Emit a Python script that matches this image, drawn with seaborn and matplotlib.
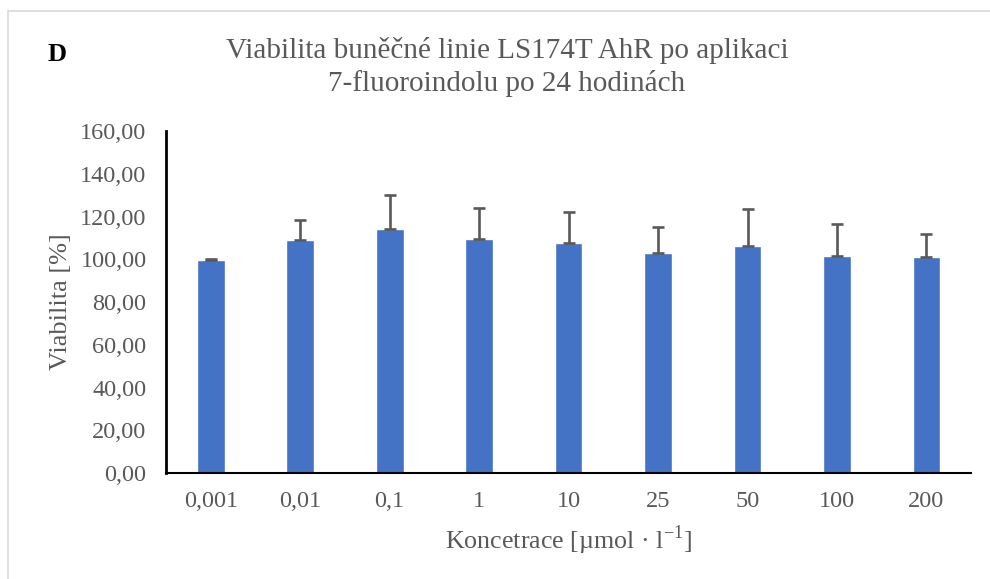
import matplotlib
matplotlib.use("Agg")
import matplotlib.pyplot as plt
import matplotlib.patches as mpatches
import seaborn as sns

# koncentrace a viabilita (prumer + smerodatna odchylka, jen kladna vetev)
koncentrace = ["0,001", "0,01", "0,1", "1", "10", "25", "50", "100", "200"]
viabilita = [99.8, 109.0, 114.4, 109.5, 107.7, 102.8, 106.2, 101.7, 101.1]
odchylka = [0.5, 9.5, 15.7, 14.6, 14.3, 12.4, 17.4, 14.8, 10.5]
y_ticks = [0, 20, 40, 60, 80, 100, 120, 140, 160]

sns.set_style("white")
plt.rcParams["font.family"] = ["Liberation Serif", "DejaVu Serif"]
plt.rcParams["mathtext.fontset"] = "custom"
plt.rcParams["mathtext.rm"] = "Liberation Serif"

seda = "#595959"
fig = plt.figure(figsize=(9.9, 5.79), dpi=100)
ax = fig.add_axes([0.1677, 0.183, 0.8133, 0.5907])

sns.barplot(x=koncentrace, y=viabilita, order=koncentrace, color="#4472C4",
            saturation=1, width=0.31, ax=ax)
ax.errorbar(range(len(koncentrace)), viabilita,
            yerr=[[0] * len(odchylka), odchylka], fmt="none",
            ecolor=seda, elinewidth=1.9, capsize=4.5, capthick=1.9)

ax.set_ylim(0, 160)
ax.set_xlim(-0.5, len(koncentrace) - 0.5)
ax.set_yticks(y_ticks)
ax.set_yticklabels([f"{v:.2f}".replace(".", ",") for v in y_ticks])
ax.tick_params(axis="y", length=0, pad=14, labelsize=17.5, labelcolor=seda)
ax.tick_params(axis="x", length=0, pad=13, labelsize=17.5, labelcolor=seda)

for s in ["top", "right"]:
    ax.spines[s].set_visible(False)
ax.spines["left"].set_color("black")
ax.spines["left"].set_linewidth(2)
ax.spines["bottom"].set_color("black")
ax.spines["bottom"].set_linewidth(1.5)

ax.set_ylabel("Viabilita [%]", fontsize=19, color=seda, labelpad=6)
ax.set_xlabel(r"Koncetrace [µmol · l$^{\mathregular{-1}}$]", fontsize=18.7,
              color=seda, labelpad=8)

fig.text(0.512, 0.912, "Viabilita buněčné linie LS174T AhR po aplikaci",
         ha="center", va="center", fontsize=21, color=seda)
fig.text(0.512, 0.855, "7-fluoroindolu po 24 hodinách",
         ha="center", va="center", fontsize=21, color=seda)
fig.text(0.058, 0.906, "D", ha="center", va="center", fontsize=19,
         fontweight="bold", color="black")

# ramecek grafu
fig.patches.append(mpatches.Rectangle((8 / 990, -0.1), 1.2, 1.1 - 11 / 579,
                                      transform=fig.transFigure, fill=False,
                                      edgecolor="#d9d9d9", linewidth=1.2))

fig.savefig("out.png", dpi=100)
